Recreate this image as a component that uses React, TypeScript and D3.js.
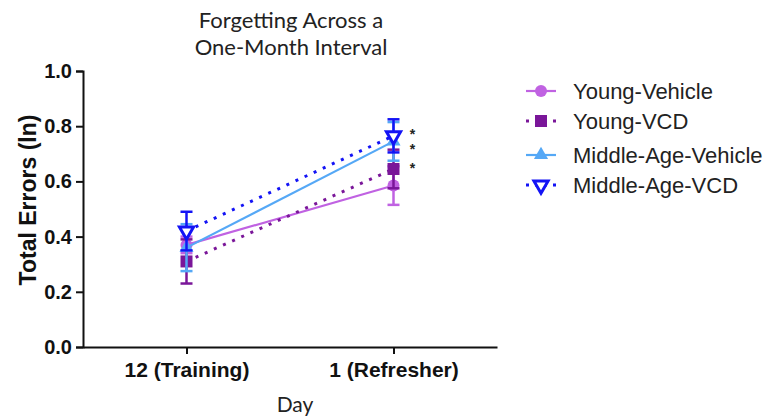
import React, { useEffect, useRef } from 'react'
import * as d3 from 'd3'

// data
const days = ['12 (Training)', '1 (Refresher)']
const seriesNames = ['Young-Vehicle', 'Young-VCD', 'Middle-Age-Vehicle', 'Middle-Age-VCD']
const youngVehicle = [0.37, 0.585]
const youngVehicleErr = [0.03, 0.07]
const youngVCD = [0.31, 0.645]
const youngVCDErr = [0.08, 0.07]
const midVehicle = [0.36, 0.745]
const midVehicleErr = [0.085, 0.07]
const midVCD = [0.42, 0.765]
const midVCDErr = [0.07, 0.06]
const starValues = [0.78, 0.725, 0.655]
const yTicks = [0, 0.2, 0.4, 0.6, 0.8, 1.0]

const colors = ['#c062e2', '#7a1699', '#55a8f6', '#1313f5']
const dashed = [false, true, false, true]
const shapes = ['circle', 'square', 'triangle', 'triangleDown']

function App() {
  const ref = useRef<SVGSVGElement | null>(null)

  useEffect(() => {
    const svg = d3.select(ref.current)
    svg.selectAll('*').remove()

    const x = d3.scalePoint().domain(days).range([83, 497]).padding(0.5)
    const y = d3.scaleLinear().domain([0, 1]).range([347, 71])

    const values = [youngVehicle, youngVCD, midVehicle, midVCD]
    const errs = [youngVehicleErr, youngVCDErr, midVehicleErr, midVCDErr]

    // title
    const title = svg.append('text')
      .attr('text-anchor', 'middle')
      .style('font-family', 'Lato, "Open Sans", sans-serif')
      .style('font-size', '22px')
      .attr('fill', '#222')
    title.append('tspan').attr('x', 291).attr('y', 28).text('Forgetting Across a')
    title.append('tspan').attr('x', 291).attr('y', 55).text('One-Month Interval')

    // y axis
    const yAxis = d3.axisLeft(y).tickValues(yTicks).tickFormat(d3.format('.1f')).tickSize(7).tickPadding(4)
    const gy = svg.append('g').attr('transform', 'translate(83,0)').call(yAxis)
    gy.select('.domain').attr('stroke-width', 2).attr('stroke', '#111')
    gy.selectAll('.tick line').attr('stroke-width', 2).attr('stroke', '#111')
    gy.selectAll('.tick text')
      .style('font-family', '"Liberation Sans", Arial, sans-serif')
      .style('font-size', '20px')
      .style('font-weight', 'bold')
      .attr('fill', '#111')

    // x axis
    const xAxis = d3.axisBottom(x).tickSize(7).tickPadding(8).tickSizeOuter(0)
    const gx = svg.append('g').attr('transform', 'translate(0,347)').call(xAxis)
    gx.select('.domain').attr('stroke-width', 2).attr('stroke', '#111')
    gx.selectAll('.tick line').attr('stroke-width', 2).attr('stroke', '#111')
    gx.selectAll('.tick text')
      .style('font-family', '"Liberation Sans", Arial, sans-serif')
      .style('font-size', '21px')
      .style('font-weight', 'bold')
      .attr('fill', '#111')

    svg.append('text')
      .attr('transform', 'translate(36,200) rotate(-90)')
      .attr('text-anchor', 'middle')
      .style('font-family', '"Liberation Sans", Arial, sans-serif')
      .style('font-size', '23px')
      .style('font-weight', 'bold')
      .attr('fill', '#111')
      .text('Total Errors (ln)')

    svg.append('text')
      .attr('x', 295).attr('y', 412)
      .attr('text-anchor', 'middle')
      .style('font-family', 'Lato, "Open Sans", sans-serif')
      .style('font-size', '21px')
      .attr('fill', '#222')
      .text('Day')

    const drawMarker = (g: any, shape: string, cx: number, cy: number, color: string, size: number) => {
      if (shape === 'circle') {
        g.append('circle').attr('cx', cx).attr('cy', cy).attr('r', size / 2).attr('fill', color)
      } else if (shape === 'square') {
        g.append('rect').attr('x', cx - size / 2).attr('y', cy - size / 2)
          .attr('width', size).attr('height', size).attr('fill', color)
      } else if (shape === 'triangle') {
        g.append('path').attr('d', d3.symbol(d3.symbolTriangle, size * size * 0.6)())
          .attr('transform', `translate(${cx},${cy})`).attr('fill', color)
      } else {
        g.append('path').attr('d', d3.symbol(d3.symbolTriangle, size * size * 0.6)())
          .attr('transform', `translate(${cx},${cy}) rotate(180)`)
          .attr('fill', 'white').attr('stroke', color).attr('stroke-width', 3)
      }
    }

    const line = d3.line<number>().x((d, i) => x(days[i]) as number).y(d => y(d))

    values.forEach((vals, s) => {
      const g = svg.append('g')
      g.append('path')
        .datum(vals)
        .attr('d', line)
        .attr('fill', 'none')
        .attr('stroke', colors[s])
        .attr('stroke-width', dashed[s] ? 3 : 2.2)
        .attr('stroke-dasharray', dashed[s] ? '3 7' : null)
      vals.forEach((v, i) => {
        const cx = x(days[i]) as number
        const e = errs[s][i]
        g.append('line').attr('x1', cx).attr('x2', cx).attr('y1', y(v - e)).attr('y2', y(v + e))
          .attr('stroke', colors[s]).attr('stroke-width', 2.5)
        ;[v - e, v + e].forEach(c => {
          g.append('line').attr('x1', cx - 6).attr('x2', cx + 6).attr('y1', y(c)).attr('y2', y(c))
            .attr('stroke', colors[s]).attr('stroke-width', 2.5)
        })
        drawMarker(g, shapes[s], cx, y(v), colors[s], 12)
      })
    })

    // significance stars
    svg.append('g').selectAll('text').data(starValues).enter().append('text')
      .attr('x', (x(days[1]) as number) + 19)
      .attr('y', d => y(d) + 7)
      .attr('text-anchor', 'middle')
      .style('font-family', '"Liberation Sans", Arial, sans-serif')
      .style('font-size', '14px')
      .style('font-weight', 'bold')
      .attr('fill', '#222')
      .text('*')

    // legend
    const legend = svg.append('g')
    const legendY = [91, 121, 155, 185]
    seriesNames.forEach((name, i) => {
      const ly = legendY[i]
      const g = legend.append('g')
      g.append('line').attr('x1', 526).attr('x2', 556).attr('y1', ly).attr('y2', ly)
        .attr('stroke', colors[i]).attr('stroke-width', dashed[i] ? 3 : 2.2)
        .attr('stroke-dasharray', dashed[i] ? '3 6' : null)
      drawMarker(g, shapes[i], 541, ly, colors[i], 12)
      g.append('text').attr('x', 573).attr('y', ly + 8)
        .style('font-family', '"Liberation Sans", Arial, sans-serif')
        .style('font-size', '22px')
        .attr('fill', '#222')
        .text(name)
    })
  }, [])

  return <svg ref={ref} width={771} height={420} style={{ position: 'absolute', left: 0, top: 0 }}></svg>
}

export default App
